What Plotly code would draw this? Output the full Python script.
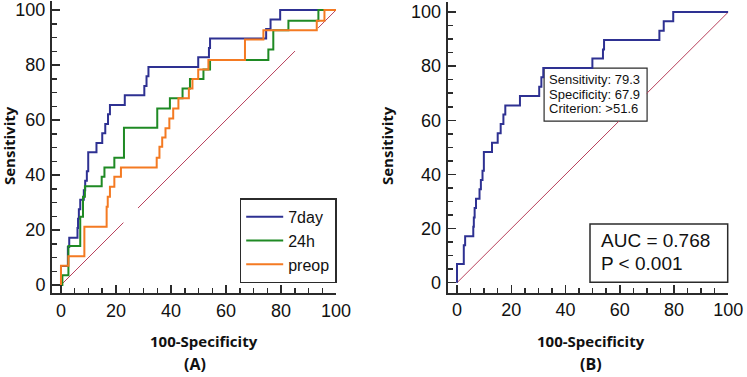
import plotly.graph_objects as go

W, H = 747, 377

# ---------------- data ----------------
tick_values = [0, 20, 40, 60, 80, 100]

# 7day ROC corner points (100-Specificity, Sensitivity)
fpr_7day = [0, 0, 2.5, 3.0, 6.0, 6.2, 6.5, 7.0, 8.3, 8.8, 9.4, 9.9, 12.9, 15.0,
            16.1, 17.1, 17.8, 23.2, 30.3, 31.1, 31.8, 49.9, 53.8, 54.2, 74.6,
            76.2, 79.7, 100]
sens_7day = [0, 6.9, 13.8, 17.2, 20.7, 24.1, 27.6, 31.0, 34.5, 37.9, 41.4, 48.3,
             51.7, 55.2, 58.6, 62.1, 65.5, 69.0, 72.4, 75.9, 79.3, 82.8, 86.2,
             89.7, 93.1, 96.6, 100, 100]

# 24h ROC corner points
fpr_24h = [0, 0.5, 2.7, 7.0, 8.0, 8.7, 14.8, 15.8, 19.4, 22.9, 35.0, 39.6, 44.2,
           46.9, 51.8, 54.2, 75.4, 77.2, 82.7, 93.6, 100]
sens_24h = [0, 3.6, 14.2, 24.8, 32.1, 35.9, 39.4, 42.7, 46.3, 57.2, 64.2, 67.9,
            71.5, 74.9, 78.4, 81.8, 85.7, 92.7, 96.1, 100, 100]

# preop ROC corner points
fpr_preop = [0, 0, 2.7, 8.5, 16.6, 17.0, 17.8, 19.4, 21.8, 34.8, 35.8, 36.8,
             38.0, 39.4, 40.8, 42.7, 46.5, 47.8, 49.9, 53.6, 66.9, 73.6, 93.0,
             95.8, 100]
sens_preop = [0, 7.0, 10.5, 21.2, 28.5, 32.1, 35.7, 39.4, 42.7, 46.3, 50.3, 53.7,
              57.0, 60.6, 64.2, 67.9, 71.5, 74.9, 78.4, 81.8, 89.3, 92.7, 96.1,
              100, 100]

# reference diagonals (visible pieces)
diag_a = [0, 22.7, None, 28.0, 85.1, None, 93.5, 100]
diag_b = [0, 59.7, None, 69.9, 100]

# panel B statistics
sens_label = 79.3
spec_label = 67.9
criterion_label = ">51.6"
auc_label = "0.768"
p_label = "< 0.001"

# ---------------- styles ----------------
C_BLUE = "#2e3192"
C_GREEN = "#1f8a24"
C_ORANGE = "#f47a22"
C_DIAG = "#b8405c"
C_AXIS = "#2b2b2b"
TICK_FONT = dict(family="Liberation Sans, Arial", size=18, color="#111111")
TITLE_FONT = dict(family="Open Sans, Noto Sans", size=15, color="#111111", weight="bold")

fig = go.Figure()

# Panel A
fig.add_trace(go.Scatter(x=diag_a, y=diag_a, mode="lines", xaxis="x", yaxis="y",
                         line=dict(color=C_DIAG, width=1), showlegend=False,
                         connectgaps=False))
fig.add_trace(go.Scatter(x=fpr_7day, y=sens_7day, mode="lines", name="7day",
                         xaxis="x", yaxis="y", line=dict(color=C_BLUE, width=2, shape="hv")))
fig.add_trace(go.Scatter(x=fpr_24h, y=sens_24h, mode="lines", name="24h",
                         xaxis="x", yaxis="y", line=dict(color=C_GREEN, width=2, shape="hv")))
fig.add_trace(go.Scatter(x=fpr_preop, y=sens_preop, mode="lines", name="preop",
                         xaxis="x", yaxis="y", line=dict(color=C_ORANGE, width=2, shape="hv")))

# Panel B
fig.add_trace(go.Scatter(x=diag_b, y=diag_b, mode="lines", xaxis="x2", yaxis="y2",
                         line=dict(color=C_DIAG, width=1), showlegend=False,
                         connectgaps=False))
fig.add_trace(go.Scatter(x=fpr_7day, y=sens_7day, mode="lines", xaxis="x2", yaxis="y2",
                         line=dict(color=C_BLUE, width=2, shape="hv"), showlegend=False))


def axis_style(domain, rng, anchor, standoff):
    return dict(domain=domain, range=rng, anchor=anchor, showline=True,
                linecolor=C_AXIS, linewidth=2, ticks="inside", ticklen=8,
                tickwidth=1.5, tickcolor=C_AXIS, tickvals=tick_values,
                minor=dict(ticks="inside", ticklen=5, tickwidth=1.5,
                           tickcolor=C_AXIS, dtick=5, tick0=0, showgrid=False),
                showgrid=False, zeroline=False, tickfont=TICK_FONT,
                ticklabelstandoff=standoff,
                automargin=False, fixedrange=True)


fig.update_layout(
    width=W, height=H,
    margin=dict(l=0, r=0, t=0, b=0),
    paper_bgcolor="white", plot_bgcolor="white",
    xaxis=axis_style([52 / W, 336 / W], [-3.27, 100], "y", 0),
    yaxis=axis_style([1 - 293 / H, 1 - 1 / H], [-2.9, 103.3], "x", 1),
    xaxis2=axis_style([447.7 / W, 728.3 / W], [-3.43, 100], "y2", 0),
    yaxis2=axis_style([1 - 292.7 / H, 1 - 1.5 / H], [-3.7, 103.9], "x2", 1),
    legend=dict(x=336.7 / W, xanchor="right", y=1 - 283.3 / H, yanchor="bottom",
                bgcolor="white", bordercolor=C_AXIS, borderwidth=1.5,
                font=dict(family="Liberation Sans, Arial", size=16, color="#111111"),
                itemwidth=37, tracegroupgap=0),
    showlegend=True,
)

op_fpr = round(100 - spec_label, 1)
shapes = [
    # criterion info box anchored at operating point
    dict(type="rect", xref="x2", yref="y2", xsizemode="pixel", ysizemode="pixel",
         xanchor=op_fpr, yanchor=sens_label, x0=0, x1=103, y0=-53, y1=0,
         line=dict(color=C_AXIS, width=1.2), fillcolor="white", layer="below"),
    # AUC box
    dict(type="rect", xref="paper", yref="paper", x0=590 / W, x1=727.7 / W,
         y0=1 - 282.3 / H, y1=1 - 224 / H, line=dict(color=C_AXIS, width=1.5),
         fillcolor="white", layer="below"),
]

ann = []
info_lines = [f"Sensitivity: {sens_label}", f"Specificity: {spec_label}",
              f"Criterion: {criterion_label}"]
for i, t in enumerate(info_lines):
    ann.append(dict(xref="x2", yref="y2", x=op_fpr, y=sens_label, text=t,
                    showarrow=False, xanchor="left", yanchor="middle",
                    xshift=3, yshift=-11.7 - 14.4 * i,
                    font=dict(family="Liberation Sans, Arial", size=13, color="#111")))
for t, py in [(f"AUC = {auc_label}", 240), (f"P {p_label}", 263.3)]:
    ann.append(dict(xref="paper", yref="paper", x=599 / W, y=1 - py / H, text=t,
                    showarrow=False, xanchor="left", yanchor="middle",
                    font=dict(family="Liberation Sans, Arial", size=19, color="#111")))

for t, px, py, ang, size in [("100-Specificity", 204, 340.5, 0, 15),
                             ("(A)", 195, 364, 0, 16),
                             ("100-Specificity", 591, 340.5, 0, 15),
                             ("(B)", 591, 364, 0, 16),
                             ("Sensitivity", 9, 146, -90, 15),
                             ("Sensitivity", 387, 146, -90, 15)]:
    f = dict(TITLE_FONT)
    f["size"] = size
    ann.append(dict(xref="paper", yref="paper", x=px / W, y=1 - py / H, text=t,
                    showarrow=False, xanchor="center", yanchor="middle",
                    textangle=ang, font=f))

fig.update_layout(shapes=shapes, annotations=ann)

fig.write_html("out.html",
               config={"displayModeBar": False, "staticPlot": True},
               post_script="document.body.style.margin='0';"
                           "document.body.style.overflow='hidden';")
